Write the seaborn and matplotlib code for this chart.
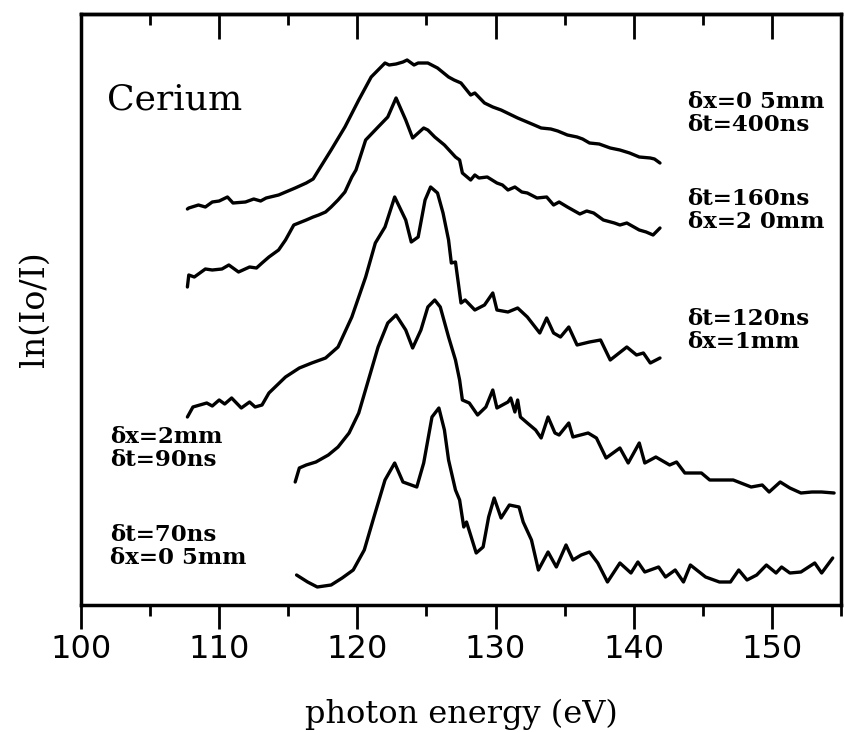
import numpy as np
import pandas as pd
import matplotlib
matplotlib.use("Agg")
import matplotlib.pyplot as plt
from matplotlib.ticker import MultipleLocator
import seaborn as sns

# ---- data (photon energy in eV, ln(Io/I) in arbitrary offset units) ----
x_400 = [107.7, 107.8, 108.5, 109.0, 109.5, 110.0, 110.6, 111.0, 111.9, 112.5, 113.0, 113.4, 114.3,
         115.5, 116.3, 116.8, 117.2, 118.1, 119.1, 120.1, 121.0, 122.0, 122.3, 122.8, 123.3, 123.6,
         123.9, 124.1, 124.4, 125.1, 125.8, 126.6, 127.0, 127.5, 128.2, 128.5, 129.2, 129.8, 130.4,
         131.6, 132.8, 133.3, 134.0, 134.5, 135.2, 135.9, 136.3, 136.8, 137.5, 138.3, 139.0, 139.7,
         140.4, 141.2, 141.5, 141.9]
y_400 = [396, 397, 400, 398, 403, 404, 408, 402, 403, 406, 404, 407, 410, 417, 422, 426, 435, 455,
         478, 505, 528, 542, 540, 541, 543, 545, 542, 540, 542, 542, 537, 528, 525, 522, 510, 512,
         502, 498, 495, 487, 480, 477, 476, 474, 470, 468, 466, 462, 461, 457, 455, 452, 448, 447,
         446, 442]

x_160 = [107.7, 107.8, 108.2, 108.6, 109.0, 109.5, 110.2, 110.7, 111.4, 112.2, 112.7, 113.1, 113.6,
         114.3, 114.8, 115.4, 116.3, 116.8, 117.2, 117.7, 118.1, 118.6, 119.1, 119.6, 119.9, 120.6,
         121.5, 122.2, 122.8, 123.5, 124.0, 124.8, 125.1, 125.6, 126.3, 127.1, 127.4, 127.6, 128.2,
         128.5, 128.8, 129.4, 130.1, 130.5, 130.9, 131.4, 131.9, 132.3, 133.0, 133.7, 134.2, 134.6,
         135.2, 136.1, 136.6, 137.1, 137.8, 138.6, 139.0, 139.5, 140.4, 140.9, 141.4, 141.9]
y_160 = [318, 330, 328, 332, 336, 335, 336, 340, 333, 338, 337, 342, 348, 355, 365, 380, 385, 388,
         390, 393, 398, 405, 413, 428, 435, 465, 478, 488, 507, 485, 467, 477, 475, 468, 460, 448,
         445, 432, 425, 430, 427, 428, 422, 420, 415, 418, 413, 412, 407, 408, 400, 403, 398, 391,
         394, 392, 385, 382, 380, 382, 375, 373, 370, 377]

x_120 = [107.7, 108.1, 108.6, 109.1, 109.5, 110.0, 110.4, 110.9, 111.6, 112.2, 112.6, 113.1, 113.6,
         114.8, 115.8, 116.7, 117.7, 118.6, 119.6, 120.6, 121.3, 122.0, 122.7, 123.5, 123.9, 124.4,
         124.9, 125.3, 125.8, 126.2, 126.6, 126.8, 127.1, 127.5, 127.8, 128.5, 129.2, 129.8, 130.1,
         130.9, 131.6, 132.3, 133.2, 133.7, 134.2, 134.7, 135.3, 135.9, 136.8, 137.6, 138.3, 139.5,
         140.2, 140.7, 141.2, 141.9]
y_120 = [188, 198, 200, 202, 199, 205, 201, 207, 197, 203, 198, 200, 212, 228, 237, 242, 247, 258,
         288, 328, 362, 378, 408, 385, 363, 368, 405, 418, 412, 392, 365, 342, 343, 302, 305, 295,
         300, 312, 295, 293, 297, 288, 272, 287, 272, 268, 278, 260, 263, 265, 245, 258, 250, 252,
         242, 247]

x_90 = [115.5, 115.8, 116.3, 117.0, 117.9, 118.6, 119.4, 120.1, 120.8, 121.5, 122.2, 122.8, 123.5,
        124.0, 124.6, 125.1, 125.6, 126.0, 126.6, 127.1, 127.4, 127.6, 128.1, 128.7, 129.3, 129.8,
        130.1, 130.9, 131.1, 131.4, 131.6, 131.8, 132.3, 132.9, 133.3, 133.8, 134.3, 134.6, 135.3,
        135.6, 136.7, 137.3, 138.0, 139.0, 139.6, 140.4, 140.8, 141.6, 142.6, 143.1, 143.7, 144.9,
        145.5, 146.7, 147.2, 148.5, 149.3, 149.8, 150.6, 151.3, 152.1, 152.9, 153.6, 154.5]
y_90 = [123, 137, 140, 143, 150, 158, 172, 192, 225, 258, 282, 290, 275, 257, 275, 298, 305, 298,
        268, 245, 225, 205, 202, 190, 198, 215, 197, 203, 207, 193, 205, 188, 182, 175, 167, 188,
        172, 170, 182, 168, 172, 167, 147, 157, 142, 162, 142, 148, 140, 143, 132, 132, 125, 125,
        125, 118, 120, 113, 123, 117, 112, 113, 113, 112]

x_70 = [115.6, 116.4, 117.1, 118.1, 118.9, 119.7, 120.5, 121.2, 122.0, 122.7, 123.3, 124.3, 124.8,
        125.4, 125.9, 126.3, 126.6, 127.1, 127.4, 127.7, 127.9, 128.6, 129.1, 129.5, 129.9, 130.4,
        131.0, 131.7, 132.0, 132.6, 133.1, 133.8, 134.4, 135.1, 135.6, 136.2, 136.8, 137.4, 138.1,
        139.0, 139.8, 140.3, 140.8, 141.8, 142.3, 143.0, 143.6, 144.1, 145.2, 146.2, 147.0, 147.6,
        148.2, 148.9, 149.6, 150.3, 150.7, 151.3, 152.1, 153.1, 153.6, 154.4]
y_70 = [30, 23, 18, 20, 27, 35, 55, 88, 125, 142, 123, 118, 142, 188, 197, 175, 145, 115, 105, 78,
        83, 52, 58, 88, 107, 87, 100, 98, 83, 65, 35, 53, 38, 60, 45, 50, 53, 42, 23, 42, 32, 43,
        33, 38, 28, 35, 23, 40, 28, 23, 23, 35, 25, 30, 40, 32, 38, 32, 33, 42, 32, 47]

series = [("400", x_400, y_400), ("160", x_160, y_160), ("120", x_120, y_120),
          ("90", x_90, y_90), ("70", x_70, y_70)]

x_ticks = [100, 110, 120, 130, 140, 150]

labels_right = [(143.9, 503, "δx=0 5mm"), (143.9, 480, "δt=400ns"),
                (143.9, 406, "δt=160ns"), (143.9, 383, "δx=2 0mm"),
                (143.9, 286, "δt=120ns"), (143.9, 263, "δx=1mm")]
labels_left = [(102.1, 168, "δx=2mm"), (102.1, 145, "δt=90ns"),
               (102.1, 70, "δt=70ns"), (102.1, 47, "δx=0 5mm")]

# ---- plot ----
sns.set_style("ticks")
plt.rcParams["font.family"] = ["DejaVu Sans"]
plt.rcParams["text.color"] = "black"
plt.rcParams["axes.labelcolor"] = "black"
plt.rcParams["xtick.color"] = "black"
plt.rcParams["ytick.color"] = "black"

fig = plt.figure(figsize=(8.44, 7.32), dpi=100)
ax = fig.add_axes([81 / 844, 1 - 605 / 732, 760 / 844, 591 / 732])

for name, xs, ys in series:
    df = pd.DataFrame({"x": xs, "y": ys})
    sns.lineplot(data=df, x="x", y="y", ax=ax, color="black", lw=2.4,
                 sort=False, estimator=None)

ax.set_xlim(100, 155)
ax.set_ylim(0, 591)
ax.set_yticks([])
ax.set_xticks(x_ticks)
ax.set_xticklabels([str(t) for t in x_ticks], fontsize=23, color="black")
ax.xaxis.set_minor_locator(MultipleLocator(5))
ax.tick_params(axis="x", which="major", direction="out", length=17, width=2, pad=4)
ax.tick_params(axis="x", which="minor", direction="out", length=8, width=2)
for s in ax.spines.values():
    s.set_linewidth(2.5)
    s.set_color("black")

sec = ax.secondary_xaxis("top")
sec.set_xticks(x_ticks)
sec.xaxis.set_minor_locator(MultipleLocator(5))
sec.tick_params(axis="x", which="major", direction="in", length=18, width=2, labeltop=False)
sec.tick_params(axis="x", which="minor", direction="in", length=8, width=2, labeltop=False)
sec.spines["top"].set_linewidth(2.5)

ax.set_xlabel("photon energy (eV)", fontsize=23, family="DejaVu Serif", labelpad=24,
              color="black")
ax.set_ylabel("ln(Io/I)", fontsize=24, family="DejaVu Serif", labelpad=22, color="black")

ax.text(101.9, 505, "Cerium", fontsize=26, family="DejaVu Serif", va="center", ha="left",
        color="black")
for x, y, t in labels_right + labels_left:
    ax.text(x, y, t, fontsize=16.5, family="DejaVu Serif", fontweight="bold",
            va="center", ha="left", clip_on=False, color="black")

fig.savefig("out.png", dpi=100)
